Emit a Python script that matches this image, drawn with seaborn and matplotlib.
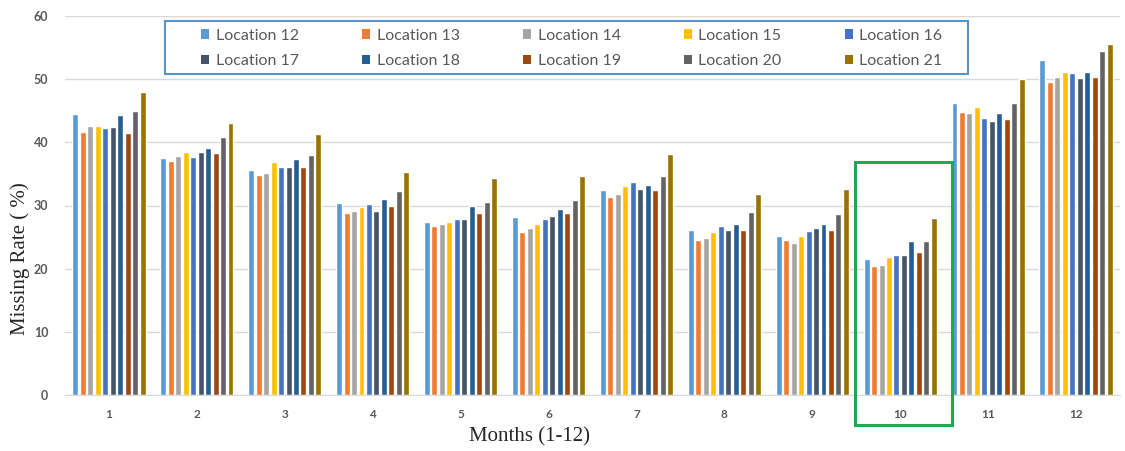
import numpy as np
import pandas as pd
import seaborn as sns
import matplotlib
matplotlib.use("Agg")
from matplotlib import pyplot as plt
from matplotlib.patches import Rectangle

months = [str(m) for m in range(1, 13)]
locations = ["Location %d" % i for i in range(12, 22)]

# missing rate (%) per location, months 1-12
loc12 = [44.5, 37.5, 35.6, 30.4, 27.4, 28.2, 32.5, 26.2, 25.1, 21.6, 46.3, 53.0]
loc13 = [41.7, 37.0, 34.9, 28.8, 26.7, 25.8, 31.4, 24.6, 24.6, 20.5, 44.8, 49.6]
loc14 = [42.6, 37.9, 35.2, 29.1, 27.1, 26.5, 31.8, 24.8, 24.0, 20.6, 44.7, 50.3]
loc15 = [42.6, 38.5, 36.9, 29.7, 27.4, 27.1, 33.1, 25.8, 25.1, 21.9, 45.6, 51.2]
loc16 = [42.3, 37.7, 36.1, 30.3, 27.8, 27.8, 33.7, 26.7, 26.0, 22.2, 43.8, 50.9]
loc17 = [42.5, 38.5, 36.1, 29.2, 27.8, 28.3, 32.6, 26.2, 26.4, 22.1, 43.4, 50.2]
loc18 = [44.3, 39.1, 37.4, 31.0, 30.0, 29.4, 33.3, 27.1, 27.0, 24.4, 44.7, 51.2]
loc19 = [41.4, 38.3, 36.1, 30.0, 28.8, 28.8, 32.5, 26.1, 26.1, 22.7, 43.7, 50.3]
loc20 = [45.0, 40.9, 38.0, 32.3, 30.6, 30.9, 34.6, 29.0, 28.7, 24.4, 46.2, 54.4]
loc21 = [48.0, 43.1, 41.3, 35.3, 34.3, 34.6, 38.2, 31.8, 32.6, 28.0, 50.1, 55.5]

colors = ["#5B9BD5", "#ED7D31", "#A5A5A5", "#FFC000", "#4472C4",
          "#44546A", "#255E91", "#9E480E", "#636363", "#997300"]

series = [loc12, loc13, loc14, loc15, loc16, loc17, loc18, loc19, loc20, loc21]
rows = []
for name, vals in zip(locations, series):
    for m, v in zip(months, vals):
        rows.append({"Month": m, "Location": name, "Rate": v})
df = pd.DataFrame(rows)

sns.set_style("white")
fig = plt.figure(figsize=(11.25, 4.51), dpi=100)
ax = fig.add_axes([65 / 1125, 56 / 451, 1055 / 1125, 379 / 451])

sns.barplot(data=df, x="Month", y="Rate", hue="Location", order=months,
            hue_order=locations, palette=colors, width=0.85, gap=0.2,
            saturation=1, ax=ax, legend=False)

ax.set_ylim(0, 60)
ax.set_xlim(-0.5, 11.5)
ax.set_yticks(range(0, 61, 10))
ax.grid(axis="y", color="#D9D9D9", linewidth=1)
ax.set_axisbelow(True)
for s in ["top", "right", "left"]:
    ax.spines[s].set_visible(False)
ax.spines["bottom"].set_color("#D9D9D9")
ax.tick_params(axis="both", length=0, colors="#595959")
ax.tick_params(axis="y", pad=12, labelsize=9)
ax.tick_params(axis="x", pad=10, labelsize=8.5)
for t in ax.get_yticklabels() + ax.get_xticklabels():
    t.set_fontweight("bold")
    t.set_family("Lato")

ax.set_xlabel("Months (1-12)", family="Liberation Serif", fontsize=15,
              va="center")
ax.xaxis.set_label_coords(0.44, -0.111)
ax.set_ylabel("Missing Rate ( %)", family="Liberation Serif", fontsize=15,
              va="center")
ax.yaxis.set_label_coords(-0.043, 0.361)

# legend box drawn separately so the padding can differ per side
ax.add_patch(Rectangle((0.0948, 0.847), 0.7611, 0.1398, transform=ax.transAxes,
                       facecolor="white", edgecolor="#5B93C7", linewidth=1.5,
                       clip_on=False, zorder=4))

# legend fills column-major, so interleave to get rows 12-16 / 17-21
handles = [Rectangle((0, 0), 1, 1, facecolor=c, linewidth=0) for c in colors]
order = [0, 5, 1, 6, 2, 7, 3, 8, 4, 9]
leg = ax.legend([handles[i] for i in order], [locations[i] for i in order],
                loc="center", bbox_to_anchor=(0.4806, 0.915), ncol=5,
                frameon=False, handlelength=0.5, handleheight=0.5,
                handletextpad=0.4, columnspacing=3.97, labelspacing=0.7,
                prop={"family": "Lato", "size": 11.5}, labelcolor="#595959")
leg.set_zorder(6)

# green highlight box around month 10
ax.add_patch(Rectangle((8.485, -4.75), 1.104, 41.65, fill=False,
                       edgecolor="#1EA852", linewidth=2.2, clip_on=False,
                       zorder=5))

fig.savefig("out.png", dpi=100)
